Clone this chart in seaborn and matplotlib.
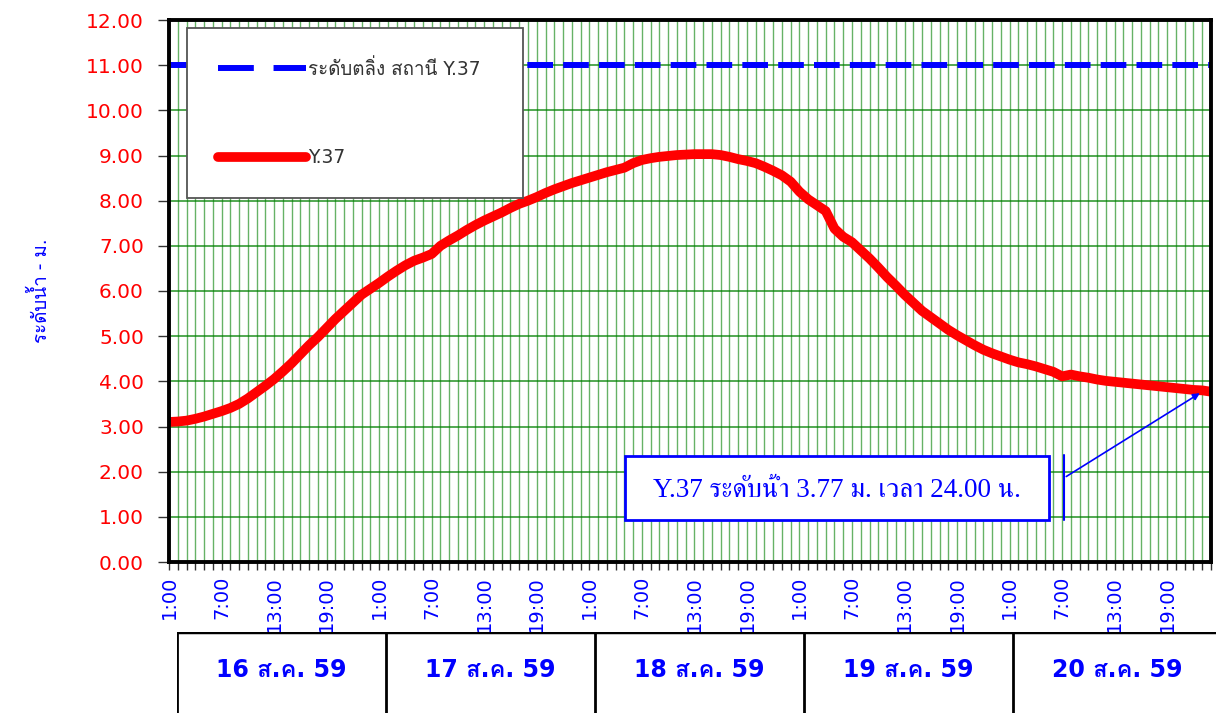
import pandas as pd
import seaborn as sns
import matplotlib.pyplot as plt
from matplotlib import font_manager
from matplotlib.ft2font import FT2Font
from matplotlib.lines import Line2D
from matplotlib.patches import Rectangle

# ระดับน้ำรายชั่วโมง สถานี Y.37 (1:00 วันที่ 16 ถึง 24:00 วันที่ 20)
levels = [3.10, 3.11, 3.13, 3.17, 3.22, 3.28, 3.34, 3.41, 3.50, 3.62,
          3.76, 3.90, 4.05, 4.22, 4.40, 4.60, 4.80, 4.98, 5.18, 5.38,
          5.56, 5.74, 5.92, 6.05, 6.18, 6.32, 6.45, 6.57, 6.67, 6.74,
          6.82, 7.00, 7.12, 7.23, 7.35, 7.46, 7.56, 7.65, 7.74, 7.84,
          7.93, 8.00, 8.08, 8.17, 8.25, 8.32, 8.39, 8.45, 8.51, 8.57,
          8.63, 8.68, 8.73, 8.83, 8.90, 8.94, 8.97, 8.99, 9.01, 9.02,
          9.03, 9.03, 9.03, 9.01, 8.97, 8.92, 8.88, 8.83, 8.75, 8.66,
          8.56, 8.42, 8.20, 8.03, 7.90, 7.77, 7.38, 7.20, 7.08, 6.90,
          6.72, 6.52, 6.31, 6.12, 5.92, 5.74, 5.56, 5.42, 5.28, 5.14,
          5.02, 4.91, 4.80, 4.70, 4.62, 4.55, 4.48, 4.42, 4.38, 4.33,
          4.27, 4.21, 4.11, 4.15, 4.11, 4.08, 4.04, 4.01, 3.99, 3.97,
          3.95, 3.93, 3.91, 3.89, 3.87, 3.85, 3.83, 3.81, 3.80, 3.77]
bank_level = 11.0
days = ["16 ส.ค. 59", "17 ส.ค. 59", "18 ส.ค. 59", "19 ส.ค. 59", "20 ส.ค. 59"]
time_labels = ["1:00", "7:00", "13:00", "19:00"]
y_ticks = [0, 1, 2, 3, 4, 5, 6, 7, 8, 9, 10, 11, 12]
legend_labels = ["ระดับตลิ่ง สถานี Y.37", "Y.37"]
y_title = "ระดับน้ำ - ม."
note = "Y.37 ระดับน้ำ 3.77 ม. เวลา 24.00 น."

df = pd.DataFrame({"hour": range(len(levels)), "level": levels})

# หาฟอนต์ที่มีอักษรไทย
thai_fonts = []
for f in font_manager.fontManager.ttflist:
    try:
        if f.name not in thai_fonts and 0x0E01 in FT2Font(f.fname).get_charmap():
            thai_fonts.append(f.name)
    except Exception:
        pass
thai_sans = "Loma" if "Loma" in thai_fonts else (thai_fonts[0] if thai_fonts else "DejaVu Sans")
thai_serif = "FreeSerif" if "FreeSerif" in thai_fonts else thai_sans

sns.set_style("white")
plt.rcParams["font.family"] = ["DejaVu Sans", thai_sans]

fig = plt.figure(figsize=(12.16, 7.13), dpi=100)
ax = fig.add_axes([169 / 1216, 1 - 562 / 713, 1042 / 1216, 542 / 713])

# เส้นกริด
for h in range(len(levels)):
    ax.axvline(h, color="#008000", lw=1.0, alpha=0.6, zorder=0)
for y in y_ticks:
    ax.axhline(y, color="#008000", lw=1.2, alpha=0.8, zorder=0)

ax.axhline(bank_level, color="#0000ff", lw=4.3, dashes=(4.3, 1.7),
           dash_capstyle="butt", zorder=3)
sns.lineplot(data=df, x="hour", y="level", color="#ff0000", lw=7,
             solid_capstyle="round", ax=ax, zorder=4)

ax.set_xlim(0, len(levels) - 1)
ax.set_ylim(0, 12)
ax.set_yticks(y_ticks)
ax.set_yticklabels([f"{v:.2f}" for v in y_ticks], color="#ff0000", fontsize=14.5)
ax.set_xticks(range(0, len(levels), 6))
ax.set_xticklabels(time_labels * len(days), rotation=90, color="#0000ff", fontsize=14)
ax.set_xticks(range(len(levels)), minor=True)
ax.tick_params(axis="x", which="both", direction="out", length=6, width=1,
               color="#333", bottom=True, pad=4)
ax.tick_params(axis="y", direction="out", length=8, width=1, color="#333",
               left=True, pad=10)
ax.set_xlabel("")
ax.set_ylabel(y_title, color="#0000ff", fontsize=13.5, labelpad=25)
for s in ax.spines.values():
    s.set_color("black")
    s.set_linewidth(2.8)
    s.set_zorder(6)

handles = [Line2D([], [], color="#0000ff", lw=4.3, dashes=(6.0, 3.3), dash_capstyle="butt"),
           Line2D([], [], color="#ff0000", lw=7, solid_capstyle="round")]
leg = ax.legend(handles, legend_labels, loc="upper left", mode="expand",
                bbox_to_anchor=(0.0173, 0.664, 0.3225, 0.321), fontsize=13.5,
                handlelength=4.7, handletextpad=0.1, labelspacing=3.7, borderpad=1.65,
                borderaxespad=0, fancybox=False, framealpha=1, edgecolor="#555",
                labelcolor="#333")
leg.get_frame().set_linewidth(1.3)
leg.set_zorder(7)

# กล่องข้อความ
ax.add_patch(Rectangle((52.1, 0.93), 48.4, 1.42, fc="white", ec="#0000ff", lw=2, zorder=8))
ax.text(76.3, 1.58, note, ha="center", va="center", color="#0000ff", fontsize=19.5,
        family=["Liberation Serif", thai_serif], zorder=9)
ax.plot([102.2, 102.2], [0.93, 2.36], color="#0000ff", lw=1.5, zorder=8)
ax.annotate("", xy=(len(levels) - 2.0, levels[-1]), xytext=(102.2, 1.86),
            arrowprops=dict(arrowstyle="-|>", color="#0000ff", lw=1.2), zorder=8)

# ตารางวันที่
bx = fig.add_axes([177 / 1216, -0.02, 5 * 209 / 1216, 81 / 713 + 0.02])
bx.set_xlim(0, len(days))
bx.set_ylim(0, 1)
bx.set_facecolor("white")
bx.set_xticks([])
bx.set_yticks([])
for s in bx.spines.values():
    s.set_visible(False)
for i, d in enumerate(days):
    bx.axvline(i, color="black", lw=2)
    bx.text(i + 0.5, 0.6, d, ha="center", va="center", color="#0000ff",
            fontsize=17, fontweight="bold")
bx.axhline(1, color="black", lw=2.5)

fig.savefig("out.png", dpi=100)
